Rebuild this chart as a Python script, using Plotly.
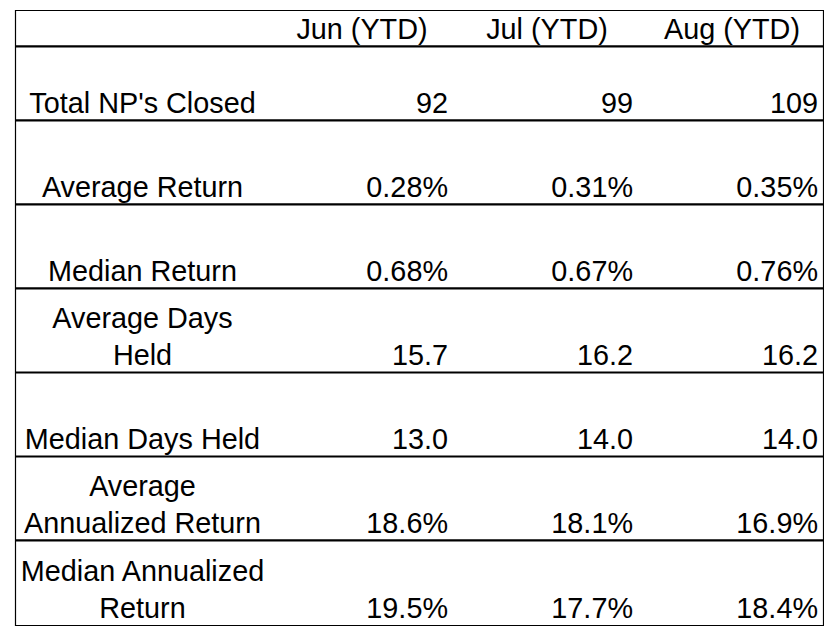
import plotly.graph_objects as go

# ---- data ----
months = ["Jun (YTD)", "Jul (YTD)", "Aug (YTD)"]
metrics = ["Total NP's Closed", "Average Return", "Median Return",
           "Average Days<br>Held", "Median Days Held",
           "Average<br>Annualized Return", "Median Annualized<br>Return"]
total_closed = [92, 99, 109]
avg_return = [0.28, 0.31, 0.35]        # %
median_return = [0.68, 0.67, 0.76]     # %
avg_days_held = [15.7, 16.2, 16.2]
median_days_held = [13.0, 14.0, 14.0]
avg_annualized = [18.6, 18.1, 16.9]    # %
median_annualized = [19.5, 17.7, 18.4] # %

rows = [
    (total_closed, "{:.0f}"),
    (avg_return, "{:.2f}%"),
    (median_return, "{:.2f}%"),
    (avg_days_held, "{:.1f}"),
    (median_days_held, "{:.1f}"),
    (avg_annualized, "{:.1f}%"),
    (median_annualized, "{:.1f}%"),
]

# ---- layout geometry (page pixels) ----
W, H = 832, 634
BODY = 8  # default page margin of the html body
left, right = 15.5, 824.5
top = 10.5
header_bottom = 46.3
row_bottoms = [120.3, 204.3, 288.3, 372.5, 456.5, 540.3, 625.5]
label_col_right = 269.5
col_w = (right - label_col_right) / 3
col_rights = [label_col_right + col_w * (i + 1) for i in range(3)]
pad = 6.5
FONT = dict(family="Liberation Sans, Arial, sans-serif", size=28.8, color="black")

fig = go.Figure()

# header
fig.add_trace(go.Scatter(
    x=[r - col_w / 2 for r in col_rights], y=[header_bottom] * 3,
    text=months, mode="text", textposition="top center",
    textfont=FONT, hoverinfo="skip", showlegend=False))

# row labels
fig.add_trace(go.Scatter(
    x=[(left + label_col_right) / 2] * len(metrics), y=row_bottoms,
    text=metrics, mode="text", textposition="top center",
    textfont=FONT, hoverinfo="skip", showlegend=False))

# values per month column
for ci, m in enumerate(months):
    texts = [fmt.format(vals[ci]) for vals, fmt in rows]
    fig.add_trace(go.Scatter(
        x=[col_rights[ci] - pad] * len(rows), y=row_bottoms,
        text=texts, mode="text", textposition="top left",
        textfont=FONT, hoverinfo="skip", showlegend=False, name=m))

# borders
shapes = []
shapes.append(dict(type="rect", x0=left, x1=right - 1, y0=top, y1=row_bottoms[-1],
                   line=dict(color="black", width=1.2)))
for yb in [header_bottom] + row_bottoms[:-1]:
    shapes.append(dict(type="line", x0=left, x1=right - 1, y0=yb, y1=yb,
                       line=dict(color="black", width=2.2)))

fig.update_layout(
    width=W - BODY, height=H - BODY, margin=dict(l=0, r=0, t=0, b=0),
    paper_bgcolor="white", plot_bgcolor="white",
    xaxis=dict(range=[BODY, W], visible=False, fixedrange=True),
    yaxis=dict(range=[H, BODY], visible=False, fixedrange=True),
    shapes=shapes, showlegend=False,
)

fig.write_html("out.html")
